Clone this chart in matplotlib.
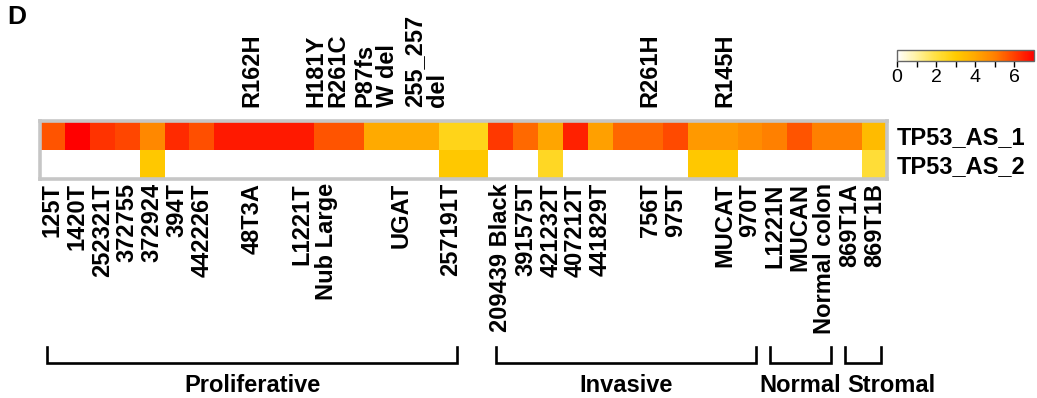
import numpy as np
import matplotlib
matplotlib.use("Agg")
import matplotlib.pyplot as plt
from matplotlib.colors import LinearSegmentedColormap, Normalize
from matplotlib.transforms import blended_transform_factory

plt.rcParams['font.family'] = ['Liberation Sans', 'DejaVu Sans']

# ---------------- data ----------------
sample_labels = ['125T', '1420T', '252321T', '372755', '372924', '394T', '442226T',
                 '', '48T3A', '', 'L1221T', 'Nub Large', '', '', 'UGAT', '', '257191T', '',
                 '209439 Black', '391575T', '421232T', '407212T', '441829T', '', '756T',
                 '975T', '', 'MUCAT', '970T', 'L1221N', 'MUCAN', 'Normal colon', '869T1A', '869T1B']

tp53_as_1 = [5.67, 7.0, 6.2, 5.9, 4.8, 6.34, 5.75,
             6.6, 6.6, 6.6, 6.6, 5.67, 5.67, 3.95, 3.95, 3.95, 2.6, 2.6,
             6.1, 5.35, 4.07, 6.47, 4.2, 5.4, 5.4,
             5.84, 4.37, 4.37, 4.7, 5.0, 5.67, 5.0, 5.0, 3.47]

tp53_as_2 = [None, None, None, None, 3.1, None, None,
             None, None, None, None, None, None, None, None, None, 3.1, 3.1,
             None, None, 2.45, None, None, None, None,
             None, 3.1, 3.1, None, None, None, None, None, 2.15]

row_labels = ['TP53_AS_1', 'TP53_AS_2']

mutation_cols = [8, 11, 13, 15, 24, 27]
mutation_text = ['R162H', 'H181Y\nR261C', 'P87fs\nW del', '255_257\ndel', 'R261H', 'R145H']

group_names = ['Proliferative', 'Invasive', 'Normal', 'Stromal']
group_first = [0, 18, 29, 32]
group_last = [16, 28, 31, 33]

cbar_ticks = [0, 1, 2, 3, 4, 5, 6]
cbar_ticklabels = ['0', '', '2', '', '4', '', '6']

# ---------------- colormap ----------------
cmap = LinearSegmentedColormap.from_list('wyor', [
    (0 / 7, '#FFFFFF'), (1 / 7, '#FFF2A0'), (2 / 7, '#FFE040'), (3 / 7, '#FFCC00'),
    (4 / 7, '#FFA800'), (5 / 7, '#FF8000'), (6 / 7, '#FF4000'), (7 / 7, '#FF0000')])
cmap.set_bad('white')
norm = Normalize(vmin=0, vmax=7)

data = np.array([[np.nan if v is None else v for v in tp53_as_1],
                 [np.nan if v is None else v for v in tp53_as_2]], dtype=float)
data = np.ma.masked_invalid(data)

W, H = 1037, 398
fig = plt.figure(figsize=(W / 100, H / 100), dpi=100)

ax = fig.add_axes([40 / W, 1 - 179 / H, 847 / W, 58 / H])
mesh = ax.pcolormesh(data, cmap=cmap, norm=norm)
ax.set_xlim(0, data.shape[1])
ax.set_ylim(2, 0)

for s in ax.spines.values():
    s.set_color('#C6C6C6')
    s.set_linewidth(2.6)

ncol = data.shape[1]
ax.set_xticks(np.arange(ncol) + 0.5)
ax.set_xticklabels(sample_labels, rotation=90, fontsize=17, fontweight='bold',
                   va='top', ha='center')
ax.tick_params(axis='x', length=0, pad=3)

ax.yaxis.tick_right()
ax.set_yticks([0.5, 1.5])
ax.set_yticklabels(row_labels, fontsize=17, fontweight='bold')
ax.tick_params(axis='y', length=0, pad=7)

trans = blended_transform_factory(ax.transData, ax.transAxes)

for c, t in zip(mutation_cols, mutation_text):
    ax.text(c + 0.5, 1 + 14 / 58, t, transform=trans, rotation=90, ha='center',
            va='bottom', fontsize=17, fontweight='bold', multialignment='left',
            linespacing=0.95, clip_on=False)

# brackets
y_tick_top = (179 - 347) / 58
y_line = (179 - 363) / 58
y_lab = (179 - 386) / 58
for name, f, l in zip(group_names, group_first, group_last):
    x0 = f + 0.3
    x1 = l + 0.75
    ax.plot([x0, x0, x1, x1], [y_tick_top, y_line, y_line, y_tick_top], color='black',
            lw=1.9, transform=trans, clip_on=False, solid_joinstyle='miter')
    if name == 'Stromal':
        ax.text(x0 + 0.1, y_lab, name, transform=trans, ha='left', va='center',
                fontsize=17, fontweight='bold', clip_on=False)
    else:
        ax.text((x0 + x1) / 2, y_lab, name, transform=trans, ha='center', va='center',
                fontsize=17, fontweight='bold', clip_on=False)

# colorbar
cax = fig.add_axes([897 / W, 1 - 61 / H, 137 / W, 11 / H])
cb = fig.colorbar(mesh, cax=cax, orientation='horizontal', ticks=cbar_ticks)
cb.ax.set_xticklabels(cbar_ticklabels)
cb.ax.tick_params(labelsize=14, length=4, width=1, color='black', pad=2)
cb.outline.set_edgecolor('#666666')
cb.outline.set_linewidth(1)

fig.text(7 / W, 1 - 5 / H, 'D', fontsize=19, fontweight='bold', ha='left', va='top')

fig.savefig('out.png', dpi=100)
